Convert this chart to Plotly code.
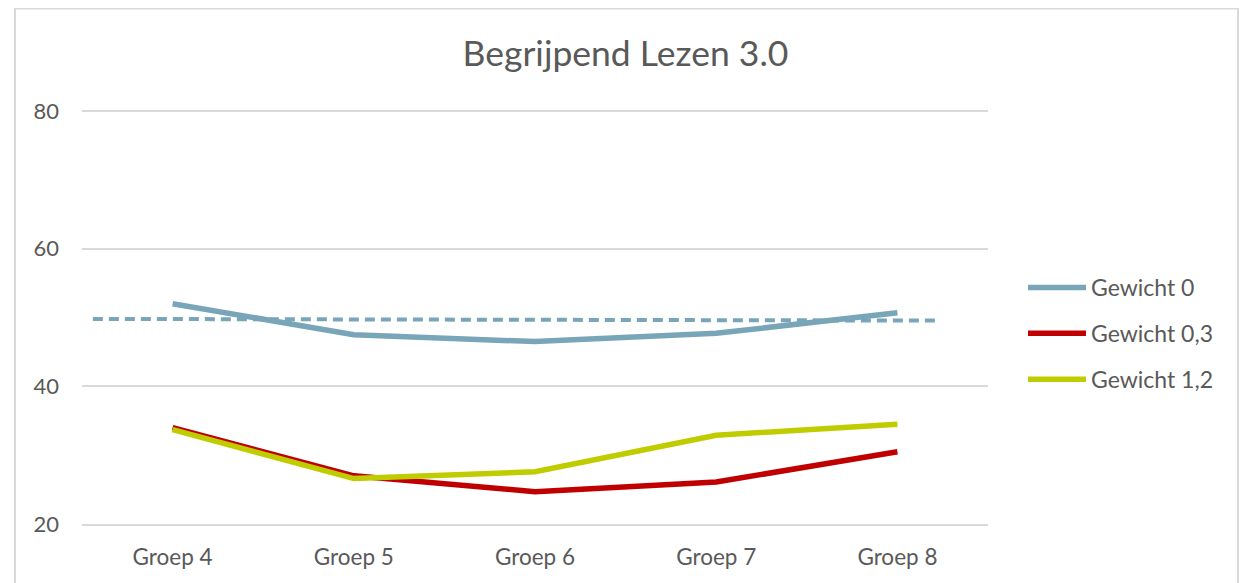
import plotly.graph_objects as go

# ---- data ----
categories = ["Groep 4", "Groep 5", "Groep 6", "Groep 7", "Groep 8"]
gewicht_0 = [52.0, 47.5, 46.5, 47.7, 50.7]
gewicht_03 = [34.0, 27.0, 24.7, 26.1, 30.5]
gewicht_12 = [33.7, 26.6, 27.6, 32.9, 34.5]
ref_x = [-0.44, 4.22]
ref_y = [49.8, 49.55]
y_ticks = [20, 40, 60, 80]

TXT = "#595959"
GRID = "#d9d9d9"
FONT = "Lato, 'Open Sans', sans-serif"

# page body has an 8px margin: work in figure coordinates = screen - 8
W, H = 1243, 575
PL, PR, PT, PB = 74, 980, 102, 516  # plot area in figure px
PW, PH = PR - PL, PB - PT

x_idx = list(range(len(categories)))

fig = go.Figure()
fig.add_trace(go.Scatter(x=ref_x, y=ref_y, mode="lines", showlegend=False,
                         line=dict(color="#79A5B9", width=4, dash="10px,6px"),
                         hoverinfo="skip"))
fig.add_trace(go.Scatter(x=x_idx, y=gewicht_0, mode="lines", name="Gewicht 0",
                         line=dict(color="#79A5B9", width=5.5), legendgroup="a"))
fig.add_trace(go.Scatter(x=x_idx, y=gewicht_03, mode="lines", name="Gewicht 0,3",
                         line=dict(color="#C00000", width=5.5), legendgroup="b"))
fig.add_trace(go.Scatter(x=x_idx, y=gewicht_12, mode="lines", name="Gewicht 1,2",
                         line=dict(color="#BFCD00", width=5.5), legendgroup="c"))

fig.update_layout(
    width=W, height=H,
    margin=dict(l=PL, r=W - PR, t=PT, b=H - PB, autoexpand=False),
    paper_bgcolor="white", plot_bgcolor="white",
    font=dict(family=FONT, color=TXT, size=22),
    title=dict(text="Begrijpend Lezen 3.0", x=(625.5 - 8) / W, xanchor="center",
               y=1 - 46 / H, yanchor="middle", yref="container",
               font=dict(size=35.5, color=TXT, family=FONT)),
    xaxis=dict(range=[-0.5, 4.5], tickmode="array", tickvals=x_idx, ticktext=categories,
               showgrid=False, zeroline=False, showline=True, linecolor=GRID, linewidth=1.5,
               ticks="", ticklabelstandoff=12, tickfont=dict(size=22.5, color=TXT)),
    yaxis=dict(range=[20, 80.15], tickmode="array", tickvals=y_ticks,
               showgrid=True, gridcolor=GRID, gridwidth=1.5, zeroline=False,
               showline=False, ticks="", ticklabelstandoff=22,
               tickfont=dict(size=22, color=TXT)),
    legend=dict(x=(1023 - 8 - PL) / PW, xanchor="left", y=(PB - (266 - 8)) / PH, yanchor="top",
                font=dict(size=23, color=TXT), tracegroupgap=13, itemwidth=58,
                bgcolor="rgba(0,0,0,0)"),
    shapes=[dict(type="rect", xref="paper", yref="paper",
                 x0=(7 - PL) / PW, x1=(1230 - PL) / PW,
                 y0=(PB - 600) / PH, y1=(PB - 0.5) / PH,
                 line=dict(color=GRID, width=2), fillcolor="rgba(0,0,0,0)", layer="below")],
)

fig.write_html("out.html")
